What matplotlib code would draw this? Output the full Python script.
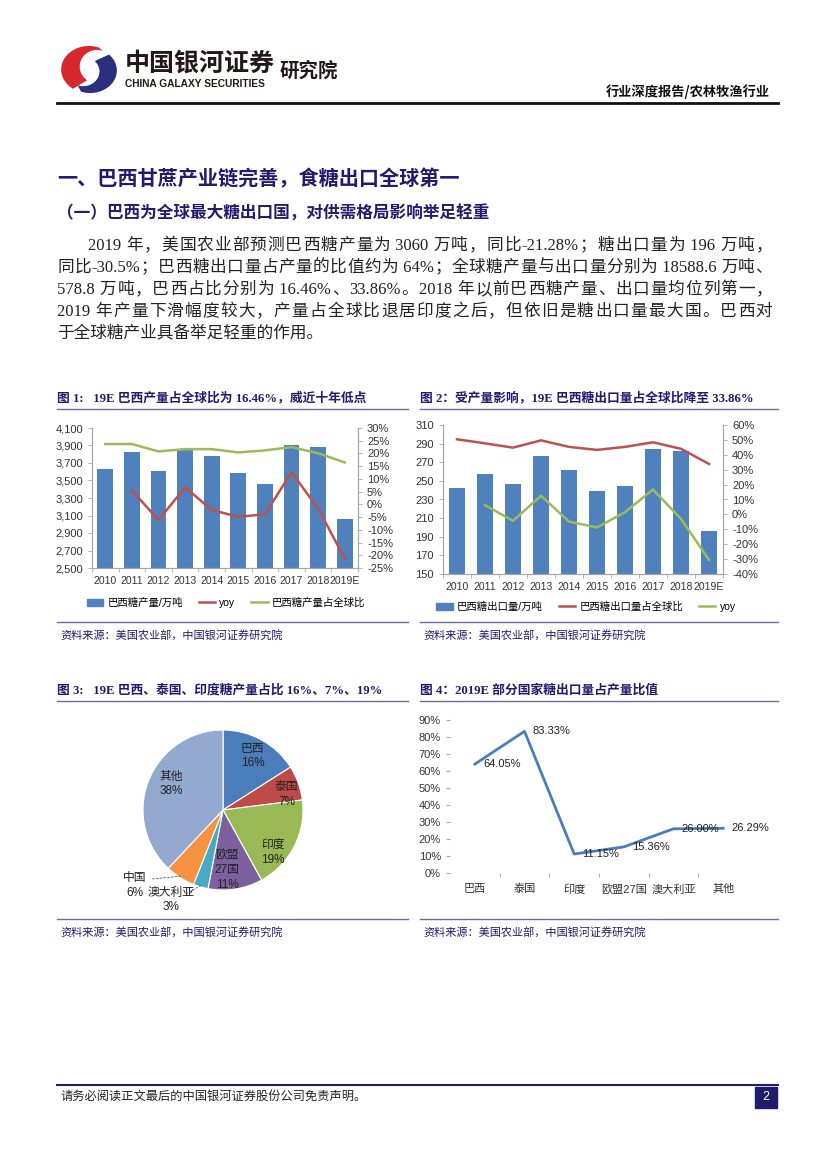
import re
import numpy as np
import matplotlib
matplotlib.use('Agg')
import matplotlib.pyplot as plt
from matplotlib.patches import Rectangle, Polygon
from matplotlib.lines import Line2D
from matplotlib.ticker import FuncFormatter

W, H = 827, 1169
NAVY = '#211B6E'
RULE = '#6E6C9E'
SERIF_CJK = ['Liberation Serif', 'Noto Sans CJK SC']
SANS_CJK = ['Liberation Sans', 'Noto Sans CJK SC']
plt.rcParams['font.family'] = SANS_CJK

# ---- data ----
years = ['2010', '2011', '2012', '2013', '2014', '2015', '2016', '2017', '2018', '2019E']
prod = [3633, 3828, 3610, 3851, 3775, 3587, 3461, 3909, 3887, 3060]
prod_yoy = [np.nan, 5.5, -6.2, 6.7, -2.2, -4.9, -3.9, 12.6, -1.6, -21.28]
prod_share = [23.7, 23.7, 20.8, 21.7, 21.7, 20.4, 21.2, 22.5, 20.1, 16.46]

exports = [242, 257, 247, 277, 262, 239, 244, 284, 282, 196]
export_share = [50.4, 47.7, 44.8, 49.7, 45.3, 43.3, 45.3, 48.4, 44.0, 33.86]
export_yoy = [np.nan, 6.2, -4.3, 12.5, -4.8, -8.8, 1.5, 16.7, -3.0, -30.5]

pie_names = ['巴西', '泰国', '印度', '欧盟\n27国', '澳大利亚', '中国', '其他']
pie_share = [16, 7, 19, 11, 3, 6, 38]

ratio_names = ['巴西', '泰国', '印度', '欧盟27国', '澳大利亚', '其他']
ratio_vals = [64.05, 83.33, 11.15, 15.36, 26.00, 26.29]

body = [
    '2019 年，美国农业部预测巴西糖产量为 3060 万吨，同比-21.28%；糖出口量为 196 万吨，',
    '同比-30.5%；巴西糖出口量占产量的比值约为 64%；全球糖产量与出口量分别为 18588.6 万吨、',
    '578.8 万吨，巴西占比分别为 16.46%、33.86%。2018 年以前巴西糖产量、出口量均位列第一，',
    '2019 年产量下滑幅度较大，产量占全球比退居印度之后，但依旧是糖出口量最大国。巴西对',
    '于全球糖产业具备举足轻重的作用。',
]


def fx(x):
    return x / W


def fy(y):
    return 1 - y / H


def box(x0, y0, x1, y1):
    return [x0 / W, 1 - y1 / H, (x1 - x0) / W, (y1 - y0) / H]


def hline(fig, x0, x1, y, color, lw):
    fig.add_artist(Line2D([fx(x0), fx(x1)], [fy(y), fy(y)], color=color, lw=lw))


fig = plt.figure(figsize=(8.27, 11.69), dpi=100)
renderer = fig.canvas.get_renderer()

# ---- header ----
lax = fig.add_axes(box(60, 45, 118, 94))
lax.set_xlim(0, 1)
lax.set_ylim(0, 1)
lax.axis('off')
t = np.radians(np.linspace(70, 235, 60))
ti = t[::-1]
red = np.c_[np.r_[0.5 + 0.48 * np.cos(t), 0.64 + 0.30 * np.cos(ti)],
            np.r_[0.5 + 0.48 * np.sin(t), 0.56 + 0.34 * np.sin(ti)]]
lax.add_patch(Polygon(red, closed=True, color='#D7282F', lw=0))
t = np.radians(np.linspace(-110, 45, 60))
ti = t[::-1]
blue = np.c_[np.r_[0.52 + 0.46 * np.cos(t), 0.40 + 0.28 * np.cos(ti)],
             np.r_[0.48 + 0.46 * np.sin(t), 0.46 + 0.30 * np.sin(ti)]]
lax.add_patch(Polygon(blue, closed=True, color='#2B2F7E', lw=0))

fig.text(fx(125), fy(64), '中国银河证券', fontsize=18, fontweight='bold',
         color='#231815', va='center', family='Noto Sans CJK SC')
fig.text(fx(125), fy(84), 'CHINA GALAXY SECURITIES', fontsize=7.3, fontweight='bold',
         color='#231815', va='center', family='Liberation Sans')
fig.text(fx(280), fy(71), '研究院', fontsize=14, fontweight='bold',
         color='#231815', va='center', family='Noto Sans CJK SC')
fig.text(fx(770), fy(92), '行业深度报告/农林牧渔行业', fontsize=9.5, fontweight='bold',
         color='#111111', va='center', ha='right', family='Noto Sans CJK SC')
hline(fig, 57, 778, 103, '#111111', 2.0)

# ---- headings and body ----
fig.text(fx(57), fy(180), '一、巴西甘蔗产业链完善，食糖出口全球第一', fontsize=14.5,
         fontweight='bold', color=NAVY, va='center', family=SERIF_CJK)
fig.text(fx(57), fy(214), '（一）巴西为全球最大糖出口国，对供需格局影响举足轻重', fontsize=12,
         fontweight='bold', color=NAVY, va='center', family=SERIF_CJK)


def justified(line, x0, x1, y, **kw):
    # one piece per CJK character, latin runs kept together; spread the slack evenly
    pieces = re.findall(r'[ -~]+|.', line)
    texts = [fig.text(fx(x0), fy(y), p, va='center', **kw) for p in pieces]
    widths = [tx.get_window_extent(renderer).width for tx in texts]
    gap = max((x1 - x0 - sum(widths)) / max(len(pieces) - 1, 1), 0)
    xpos = x0
    for tx, w in zip(texts, widths):
        tx.set_x(fx(xpos))
        xpos += w + gap


for i, line in enumerate(body):
    x0 = 88 if i == 0 else 57
    kw = dict(fontsize=12, color='#222222', family=SERIF_CJK)
    if i < len(body) - 1:
        justified(line, x0, 772, 246 + 22 * i, **kw)
    else:
        fig.text(fx(x0), fy(246 + 22 * i), line, va='center', **kw)


def chart_frame(x0, x1, ytitle, ybottom, title):
    fig.text(fx(x0), fy(ytitle), title, fontsize=9.2, fontweight='bold', color=NAVY,
             va='center', family=SERIF_CJK)
    hline(fig, x0, x1, ytitle + 11, RULE, 1.0)
    hline(fig, x0, x1, ybottom, RULE, 1.0)
    fig.text(fx(x0 + 3), fy(ybottom + 13), '资料来源：美国农业部，中国银河证券研究院',
             fontsize=8, color=NAVY, va='center', style='italic', family=SERIF_CJK)


def style_axes(ax, ax2):
    for a in (ax, ax2):
        for s in a.spines.values():
            s.set_color('#A6A6A6')
            s.set_linewidth(0.8)
        a.tick_params(labelsize=8, colors='#333333', length=3, width=0.6)
        a.tick_params(axis='both', color='#A6A6A6')
    ax.spines['top'].set_visible(False)
    ax2.spines['top'].set_visible(False)
    ax.tick_params(axis='x', length=0, pad=6, labelsize=7.5)
    ax.set_xticks(np.arange(-0.5, len(years), 1), minor=True)
    ax.tick_params(axis='x', which='minor', length=3, color='#A6A6A6')


pct = FuncFormatter(lambda v, p: '%d%%' % round(v))
x = np.arange(len(years))


def legend(xc, yc, labels, colors):
    handles = [Rectangle((0, 0), 1, 1, color=colors[0]),
               Line2D([], [], color=colors[1], lw=1.8),
               Line2D([], [], color=colors[2], lw=1.8)]
    fig.legend(handles, labels, loc='center', bbox_to_anchor=(fx(xc), fy(yc)), ncol=3,
               frameon=False, fontsize=7.5, handlelength=1.6, handleheight=0.8,
               columnspacing=1.5, handletextpad=0.4)


# ---- figure 1 ----
chart_frame(57, 408, 398, 622, '图 1:   19E 巴西产量占全球比为 16.46%，威近十年低点')
ax = fig.add_axes(box(92, 428, 358, 568))
ax.bar(x, prod, width=0.6, color='#4F81BD', zorder=2)
ax.set_ylim(2500, 4100)
ax.set_yticks(np.arange(2500, 4101, 200))
ax.yaxis.set_major_formatter(FuncFormatter(lambda v, p: '{:,}'.format(int(v))))
ax.set_xlim(-0.5, len(years) - 0.5)
ax.set_xticks(x)
ax.set_xticklabels(years)
ax2 = ax.twinx()
ax2.plot(x, prod_yoy, color='#C0504D', lw=1.8, zorder=3)
ax2.plot(x, prod_share, color='#9BBB59', lw=1.8, zorder=3)
ax2.set_ylim(-25, 30)
ax2.set_yticks(np.arange(-25, 31, 5))
ax2.yaxis.set_major_formatter(pct)
style_axes(ax, ax2)
legend(226, 603, ['巴西糖产量/万吨', 'yoy', '巴西糖产量占全球比'],
       ['#4F81BD', '#C0504D', '#9BBB59'])

# ---- figure 2 ----
chart_frame(420, 778, 398, 622, '图 2：受产量影响，19E 巴西糖出口量占全球比降至 33.86%')
ax = fig.add_axes(box(443, 425, 723, 574))
ax.bar(x, exports, width=0.6, color='#4F81BD', zorder=2)
ax.set_ylim(150, 310)
ax.set_yticks(np.arange(150, 311, 20))
ax.set_xlim(-0.5, len(years) - 0.5)
ax.set_xticks(x)
ax.set_xticklabels(years)
ax2 = ax.twinx()
ax2.plot(x, export_share, color='#C0504D', lw=1.8, zorder=3)
ax2.plot(x, export_yoy, color='#9BBB59', lw=1.8, zorder=3)
ax2.set_ylim(-40, 60)
ax2.set_yticks(np.arange(-40, 61, 10))
ax2.yaxis.set_major_formatter(pct)
style_axes(ax, ax2)
legend(586, 607, ['巴西糖出口量/万吨', '巴西糖出口量占全球比', 'yoy'],
       ['#4F81BD', '#C0504D', '#9BBB59'])

# ---- figure 3 (pie) ----
chart_frame(57, 408, 690, 919, '图 3:   19E 巴西、泰国、印度糖产量占比 16%、7%、19%')
pax = fig.add_axes(box(143, 730, 303, 890))
pie_colors = ['#4A7EBB', '#BE4B48', '#98B954', '#7D60A0', '#46AAC5', '#F69240', '#93A9CF']
wedges, _ = pax.pie(pie_share, colors=pie_colors, startangle=90, counterclock=False,
                    wedgeprops=dict(edgecolor='white', linewidth=0.8))
pax.set_aspect('equal')
pax.set_xlim(-1, 1)
pax.set_ylim(-1, 1)
label_r = [0.77, 0.82, 0.82, 0.75, 1.30, 1.45, 0.73]
label_shift = [0, -6, -13, -5, -14, -17, -5]
for w, name, v, r, sh in zip(wedges, pie_names, pie_share, label_r, label_shift):
    mid = np.radians((w.theta1 + w.theta2) / 2)
    ang = mid + np.radians(sh)
    lx, ly = r * np.cos(ang), r * np.sin(ang)
    pax.text(lx, ly, '%s\n%d%%' % (name, v), ha='center', va='center', fontsize=8.5,
             color='#222222', linespacing=1.3, clip_on=False)
    if r > 1:
        ex, ey = 0.98 * np.cos(mid), 0.98 * np.sin(mid)
        pax.plot([ex, lx + 0.2], [ey, ly + 0.08], color='#555555', lw=0.6,
                 ls=(0, (3, 1.5)), clip_on=False)

# ---- figure 4 (line) ----
chart_frame(420, 778, 690, 919, '图 4：2019E 部分国家糖出口量占产量比值')
ax = fig.add_axes(box(450, 720, 748, 873))
xr = np.arange(len(ratio_names))
ax.plot(xr, ratio_vals, color='#4A7EBB', lw=2)
for xi, v in zip(xr, ratio_vals):
    ax.annotate('%.2f%%' % v, (xi, v), xytext=(6, 0), textcoords='offset points',
                fontsize=8, va='center', ha='left', color='#222222')
ax.set_ylim(0, 90)
ax.set_xlim(-0.5, len(ratio_names) - 0.5)
ax.set_yticks(np.arange(0, 91, 10))
ax.yaxis.set_major_formatter(pct)
ax.set_xticks(xr)
ax.set_xticklabels(ratio_names)
ax.set_xticks(np.arange(0.5, len(ratio_names) - 1, 1), minor=True)
for s in ax.spines.values():
    s.set_visible(False)
ax.tick_params(labelsize=8, colors='#333333')
ax.tick_params(axis='y', length=3, color='#A6A6A6')
ax.tick_params(axis='x', length=0, pad=8)
ax.tick_params(axis='x', which='minor', length=3, color='#A6A6A6')

# ---- footer ----
hline(fig, 57, 778, 1085, NAVY, 1.5)
fig.text(fx(60), fy(1097), '请务必阅读正文最后的中国银河证券股份公司免责声明。', fontsize=8.8,
         color='#222222', va='center', family=SERIF_CJK)
fig.add_artist(Rectangle((fx(755), fy(1108)), fx(22), 21 / H, color=NAVY))
fig.text(fx(766), fy(1097.5), '2', fontsize=9, color='white', ha='center', va='center',
         family='Liberation Sans')

fig.savefig('out.png', dpi=100)
